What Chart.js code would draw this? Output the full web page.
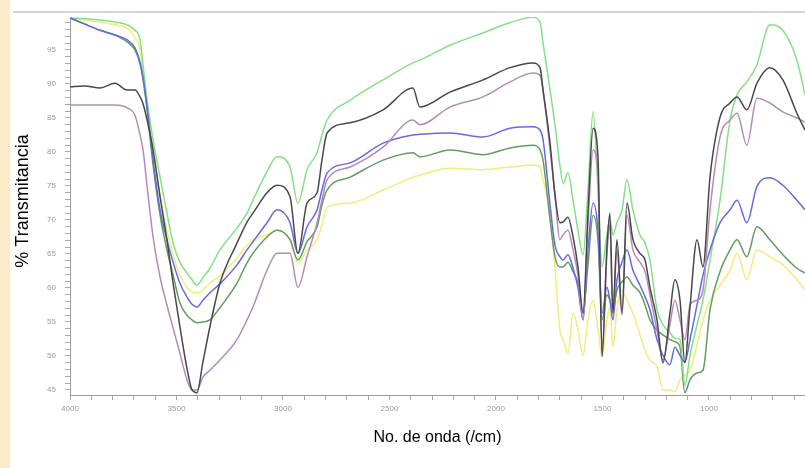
<!DOCTYPE html>
<html lang="es">
<head>
<meta charset="utf-8">
<title>Espectro IR</title>
<script src="https://cdn.jsdelivr.net/npm/chart.js@4.4.0/dist/chart.umd.min.js"></script>
<style>
  html, body { margin: 0; padding: 0; background: #fff; }
  .marco { position: relative; width: 805px; height: 468px; overflow: hidden; background: #fff; }
  .franja { position: absolute; left: 0; top: 0; width: 10px; height: 468px; background: #fcebc8; }
  .linea_sup { position: absolute; left: 13px; top: 11px; width: 792px; height: 2px; background: #d4d4d4; }
  #graficoIR { position: absolute; left: 0; top: 0; }
</style>
</head>
<body>
<div class="marco">
  <div class="franja"></div>
  <div class="linea_sup"></div>
  <canvas id="graficoIR" width="805" height="468"></canvas>
</div>
<script>
// numero de onda (cm-1) comun a todas las curvas
const numeroOnda = [4000, 3930, 3859, 3789, 3732, 3695, 3671, 3657, 3638, 3610,
  3577, 3545, 3516, 3484, 3451, 3427, 3404, 3376, 3343, 3296,
  3216, 3169, 3141, 3075, 3028, 2967, 2930, 2887, 2840, 2817,
  2793, 2685, 2530, 2390, 2357, 2216, 2061, 1934, 1826, 1793,
  1779, 1746, 1723, 1700, 1685, 1662, 1638, 1615, 1591, 1568,
  1544, 1521, 1502, 1479, 1465, 1451, 1432, 1408, 1385, 1357,
  1324, 1300, 1277, 1244, 1216, 1183, 1160, 1136, 1113, 1089,
  1056, 1028, 995, 948, 901, 868, 822, 775, 714, 653,
  587, 549];

// % transmitancia de cada muestra
const verdeClaro = [99.7, 99.6, 99.4, 99.1, 98.7, 97.9, 96.5, 92.8, 87.6, 81.8,
  76.3, 71.0, 66.6, 63.8, 62.2, 61.2, 60.4, 61.5, 62.9, 65.6,
  68.8, 71.0, 72.9, 77.1, 79.3, 77.8, 72.5, 77.4, 79.9, 82.5,
  84.7, 87.6, 90.6, 93.1, 93.5, 95.7, 97.5, 99.0, 99.8, 99.1,
  96.0, 89.1, 84.0, 78.1, 75.4, 76.9, 72.9, 68.5, 64.9, 74.4,
  85.9, 74.4, 63.1, 67.8, 70.0, 67.8, 69.6, 71.5, 75.9, 71.5,
  67.8, 66.6, 64.1, 56.8, 54.6, 53.4, 52.6, 52.4, 45.7, 50.1,
  54.6, 58.2, 64.1, 72.9, 84.7, 88.4, 90.3, 92.8, 98.7, 97.9,
  93.5, 88.4];

const negro = [89.6, 89.7, 89.4, 90.1, 89.1, 89.1, 88.1, 87.1, 84.7, 80.3,
  73.4, 67.1, 60.7, 54.3, 48.2, 45.0, 44.6, 49.1, 54.3, 60.7,
  66.6, 69.7, 71.0, 74.0, 75.1, 73.4, 65.1, 72.5, 74.0, 78.8,
  82.8, 84.3, 86.2, 89.4, 86.6, 88.8, 90.6, 92.4, 93.1, 92.4,
  89.1, 81.3, 73.7, 69.6, 69.7, 70.4, 67.5, 63.1, 56.3, 71.0,
  83.5, 79.3, 49.9, 66.0, 71.0, 56.3, 67.1, 56.3, 72.5, 67.1,
  65.1, 64.1, 60.1, 55.3, 49.0, 56.3, 61.2, 58.2, 49.0, 57.2,
  67.1, 63.1, 76.3, 85.1, 87.2, 88.1, 86.2, 90.1, 92.4, 90.6,
  85.7, 83.2];

const malva = [86.9, 86.9, 86.9, 86.9, 86.5, 85.4, 82.5, 80.3, 74.9, 67.5,
  61.6, 57.5, 54.1, 50.4, 46.5, 45.0, 45.0, 46.9, 47.9, 49.4,
  52.4, 55.3, 57.2, 62.6, 65.1, 65.1, 60.1, 64.6, 69.6, 72.9,
  75.9, 77.8, 80.7, 84.7, 84.0, 86.6, 88.1, 90.3, 91.6, 91.3,
  89.1, 80.3, 73.7, 67.1, 67.8, 68.5, 65.6, 61.9, 55.3, 69.3,
  80.3, 76.6, 50.9, 64.9, 69.3, 56.0, 65.6, 56.0, 70.7, 65.6,
  63.8, 62.4, 59.0, 53.8, 49.4, 54.6, 58.2, 55.3, 52.4, 57.5,
  58.2, 59.7, 71.5, 82.2, 84.7, 85.7, 81.0, 87.9, 87.2, 85.9,
  85.0, 84.4];

const azul = [99.7, 98.8, 97.9, 97.2, 96.5, 95.3, 93.2, 91.0, 86.6, 78.8,
  71.5, 67.1, 63.8, 60.7, 58.7, 57.6, 57.2, 58.2, 59.3, 60.6,
  63.4, 65.6, 66.8, 69.6, 71.5, 69.6, 65.1, 69.0, 71.5, 74.4,
  76.9, 78.4, 81.3, 82.5, 82.6, 82.8, 82.2, 83.5, 83.7, 83.2,
  81.8, 72.2, 66.3, 64.6, 64.1, 64.9, 62.9, 60.1, 55.3, 65.6,
  72.5, 68.5, 56.3, 60.1, 58.2, 55.3, 61.2, 63.8, 65.6, 62.6,
  60.4, 58.7, 56.8, 52.4, 50.1, 48.7, 51.3, 50.1, 49.1, 52.4,
  57.5, 61.9, 65.6, 69.6, 71.5, 72.9, 69.6, 74.9, 76.2, 75.1,
  72.9, 71.5];

const verdeOscuro = [99.7, 98.8, 97.9, 97.2, 96.2, 95.0, 92.9, 90.6, 86.2, 78.1,
  70.7, 65.6, 61.9, 57.8, 56.0, 55.3, 54.9, 55.0, 55.3, 57.1,
  60.7, 63.7, 65.1, 67.5, 68.5, 67.1, 64.1, 66.8, 69.0, 72.2,
  74.4, 76.3, 78.8, 79.9, 79.3, 80.3, 79.6, 80.6, 81.0, 80.3,
  78.8, 70.0, 64.6, 63.1, 63.1, 63.8, 62.4, 60.7, 56.3, 63.4,
  70.7, 67.1, 55.3, 59.0, 58.2, 56.8, 59.7, 60.9, 61.6, 60.4,
  59.3, 57.5, 55.3, 53.8, 53.1, 52.4, 52.1, 51.3, 44.6, 46.5,
  47.5, 47.9, 56.8, 62.4, 65.6, 67.1, 64.6, 69.0, 67.1, 64.9,
  62.9, 62.2];

const amarillo = [99.7, 99.4, 99.1, 98.7, 98.2, 96.8, 95.0, 91.3, 86.9, 80.3,
  73.7, 68.5, 64.9, 61.9, 60.1, 59.4, 59.3, 59.7, 60.7, 61.8,
  64.4, 66.3, 67.1, 67.8, 68.5, 67.1, 63.7, 65.6, 67.1, 69.3,
  71.9, 72.5, 74.4, 76.3, 76.6, 77.6, 77.4, 77.8, 78.1, 77.8,
  75.9, 71.0, 63.1, 53.8, 52.4, 50.4, 56.3, 53.8, 50.1, 55.3,
  58.2, 53.8, 49.9, 55.3, 57.2, 51.3, 56.8, 59.7, 58.2, 56.3,
  53.1, 50.9, 49.4, 48.4, 45.0, 45.0, 44.7, 46.5, 47.2, 47.9,
  51.6, 55.3, 58.2, 60.4, 62.6, 65.1, 61.2, 65.6, 64.6, 63.4,
  61.2, 59.7];

// etiquetas de los ejes
const etiquetasX = [4000, 3500, 3000, 2500, 2000, 1500, 1000];
const etiquetasY = [45, 50, 55, 60, 65, 70, 75, 80, 85, 90, 95];

function puntos(valores) {
  return numeroOnda.map((x, i) => ({ x: x, y: valores[i] }));
}

const ctx = document.getElementById('graficoIR').getContext('2d');

const graficoIR = new Chart(ctx, {
  type: 'line',
  data: {
    datasets: [
      { label: 'negro', data: puntos(negro), borderColor: '#484848' },
      { label: 'malva', data: puntos(malva), borderColor: '#b68ab8' },
      { label: 'azul', data: puntos(azul), borderColor: '#6868e4' },
      { label: 'verde claro', data: puntos(verdeClaro), borderColor: '#84e084' },
      { label: 'verde oscuro', data: puntos(verdeOscuro), borderColor: '#5f9e5f' },
      { label: 'amarillo', data: puntos(amarillo), borderColor: '#eeee7c' }
    ]
  },
  options: {
    responsive: false,
    animation: false,
    devicePixelRatio: 1,
    layout: { padding: { top: 17, right: 0, bottom: 0, left: 0 } },
    elements: {
      point: { radius: 0 },
      line: { borderWidth: 1.5, cubicInterpolationMode: 'monotone' }
    },
    plugins: {
      legend: { display: false },
      tooltip: { enabled: false }
    },
    scales: {
      x: {
        type: 'linear',
        reverse: true,
        min: 549,
        max: 4000,
        afterFit: (scale) => { scale.height = 73; },
        border: { color: '#9c9c9c' },
        grid: { drawOnChartArea: false, tickLength: 5, color: '#a8a8a8' },
        ticks: {
          stepSize: 100,
          includeBounds: false,
          autoSkip: false,
          maxRotation: 0,
          padding: 4,
          color: '#9a9a9a',
          font: { family: 'Arial', size: 8 },
          callback: (v) => etiquetasX.includes(Math.round(v)) ? String(Math.round(v)) : ''
        },
        title: {
          display: true,
          text: 'No. de onda (/cm)',
          color: '#000',
          font: { family: 'Arial', size: 16 },
          padding: { top: 0, bottom: 21 }
        }
      },
      y: {
        min: 44.26,
        max: 99.85,
        afterFit: (scale) => { scale.width = 70; },
        border: { color: '#9c9c9c' },
        grid: { drawOnChartArea: false, tickLength: 5, color: '#a8a8a8' },
        ticks: {
          stepSize: 1,
          includeBounds: false,
          autoSkip: false,
          padding: 9,
          color: '#9a9a9a',
          font: { family: 'Arial', size: 8 },
          callback: (v) => etiquetasY.includes(Math.round(v)) && Math.abs(v - Math.round(v)) < 1e-6 ? String(Math.round(v)) : ''
        },
        title: {
          display: true,
          text: '  % Transmitancia',
          color: '#000',
          font: { family: 'Arial', size: 18 },
          padding: { top: 12, bottom: 0 }
        }
      }
    }
  }
});
</script>
</body>
</html>
